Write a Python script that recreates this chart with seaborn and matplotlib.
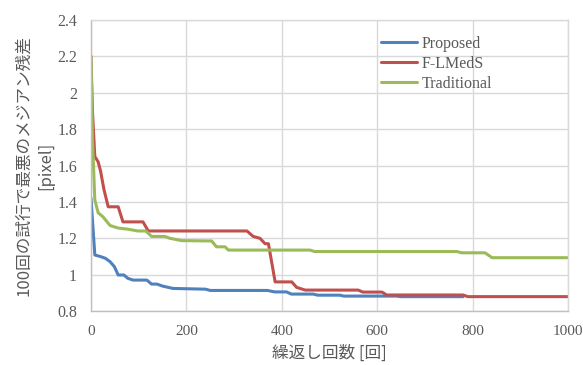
import numpy as np
import pandas as pd
import matplotlib
matplotlib.use("Agg")
import matplotlib.pyplot as plt
import seaborn as sns

# ---- data ----
methods = ["Proposed", "F-LMedS", "Traditional"]

proposed_x = [0, 8, 19, 30, 40, 49, 57, 69, 77, 88, 117, 127, 138, 150, 172, 240, 250, 370, 385, 410, 420, 466, 475, 522, 530, 640, 650, 780]
proposed_y = [1.42, 1.108, 1.10, 1.09, 1.071, 1.044, 0.998, 0.998, 0.98, 0.97, 0.97, 0.948, 0.948, 0.937, 0.924, 0.92, 0.913, 0.913, 0.905, 0.905, 0.893, 0.893, 0.887, 0.887, 0.882, 0.882, 0.879, 0.879]

flmeds_x = [0, 3, 8, 15, 20, 27, 36, 57, 67, 109, 120, 327, 340, 354, 365, 372, 386, 421, 431, 449, 560, 570, 610, 620, 780, 790, 1000]
flmeds_y = [2.2, 1.9, 1.65, 1.62, 1.57, 1.47, 1.373, 1.373, 1.29, 1.29, 1.24, 1.24, 1.21, 1.20, 1.17, 1.17, 0.96, 0.96, 0.93, 0.915, 0.915, 0.904, 0.904, 0.888, 0.888, 0.879, 0.879]

traditional_x = [0, 3, 8, 15, 25, 40, 57, 77, 98, 115, 127, 155, 165, 190, 253, 263, 281, 288, 459, 469, 767, 777, 826, 841, 1000]
traditional_y = [2.2, 1.75, 1.41, 1.34, 1.318, 1.27, 1.256, 1.25, 1.24, 1.24, 1.21, 1.21, 1.20, 1.187, 1.185, 1.153, 1.153, 1.135, 1.135, 1.127, 1.127, 1.12, 1.12, 1.093, 1.093]

x_ticks = [0, 200, 400, 600, 800, 1000]
y_ticks = [0.8, 1.0, 1.2, 1.4, 1.6, 1.8, 2.0, 2.2, 2.4]
y_ticklabels = ["0.8", "1", "1.2", "1.4", "1.6", "1.8", "2", "2.2", "2.4"]

colors = ["#4f81bd", "#c0504d", "#9bbb59"]

df = pd.concat([
    pd.DataFrame({"iter": proposed_x, "value": proposed_y, "method": methods[0]}),
    pd.DataFrame({"iter": flmeds_x, "value": flmeds_y, "method": methods[1]}),
    pd.DataFrame({"iter": traditional_x, "value": traditional_y, "method": methods[2]}),
], ignore_index=True)

sns.set_theme(style="whitegrid")
plt.rcParams["font.family"] = ["Liberation Serif", "Noto Sans CJK JP", "DejaVu Sans"]

fig = plt.figure(figsize=(5.83, 3.65), dpi=100)
ax = fig.add_axes([91/583, 1-311/365, (568-91)/583, (311-20)/365])

sns.lineplot(data=df, x="iter", y="value", hue="method", hue_order=methods,
             palette=colors, estimator=None, sort=False, linewidth=2.2, ax=ax)

ax.set_xlim(0, 1000)
ax.set_ylim(0.8, 2.4)
ax.set_xticks(x_ticks)
ax.set_yticks(y_ticks)
ax.set_yticklabels(y_ticklabels)
ax.grid(True, color="#d9d9d9", linewidth=1.0)
ax.set_axisbelow(True)
for s in ["top", "right"]:
    ax.spines[s].set_color("#d9d9d9")
    ax.spines[s].set_linewidth(1.0)
for s in ["left", "bottom"]:
    ax.spines[s].set_color("#bfbfbf")
    ax.spines[s].set_linewidth(1.0)

ax.tick_params(axis="both", length=0, labelsize=11.5, labelcolor="#595959")
ax.tick_params(axis="x", labelsize=11, pad=10)
ax.tick_params(axis="y", pad=10)
for lab in ax.get_xticklabels() + ax.get_yticklabels():
    lab.set_family("Liberation Serif")

jp = ["Noto Sans CJK JP", "DejaVu Sans"]
ax.set_xlabel("繰返し回数 [回]", family=jp, fontsize=12, color="#595959", labelpad=5)
ax.set_ylabel("100回の試行で最悪のメジアン残差\n[pixel]", family=jp, fontsize=12,
              color="#595959", labelpad=2, linespacing=1.45)

leg = ax.legend(loc="upper left", bbox_to_anchor=(0.607, 0.945), frameon=False,
                borderaxespad=0, borderpad=0, handlelength=2.3, handletextpad=0.3,
                labelspacing=0.25, prop={"family": "Liberation Serif", "size": 11.5})
for t in leg.get_texts():
    t.set_color("#595959")

fig.savefig("out.png", dpi=100)
